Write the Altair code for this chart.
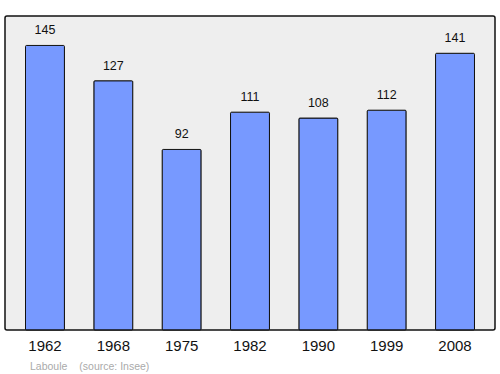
import altair as alt
import pandas as pd

years = ["1962", "1968", "1975", "1982", "1990", "1999", "2008"]
population = [145, 127, 92, 111, 108, 112, 141]
footer_texts = ["Laboule", "(source: Insee)"]

df = pd.DataFrame({"year": years, "pop": population})

x = alt.X("year:N", sort=years, title=None,
          scale=alt.Scale(paddingInner=0.43, paddingOuter=0.3),
          axis=alt.Axis(labelAngle=0, ticks=False, domain=False, labelFontSize=15,
                        labelFont="Liberation Sans", labelColor="#111111", labelPadding=8))
y = alt.Y("pop:Q", title=None, scale=alt.Scale(domain=[0, 160], nice=False),
          axis=None)

bars = alt.Chart(df).mark_bar(color="#7799ff", stroke="#111111", strokeWidth=1,
                              cornerRadius=1).encode(x=x, y=y)
labels = alt.Chart(df).mark_text(dy=-15, fontSize=12.5, font="Liberation Sans",
                                 color="#111111").encode(x=x, y=y, text="pop:Q")

fdf = pd.DataFrame({"t": footer_texts, "px": [25, 74.3]})
footer = alt.Chart(fdf).mark_text(align="left", baseline="middle", fontSize=10.5,
                                  font="Liberation Sans", color="#aaaaaa").encode(
    x=alt.X("px:Q", scale=None), y=alt.value(350.5), text="t:N")

chart = alt.layer(bars, labels, footer).properties(
    width=490, height=314,
    autosize=alt.AutoSizeParams(type="none"),
    padding={"left": 5, "top": 16, "right": 5, "bottom": 44},
    background="white",
).configure_view(fill="#eeeeee", stroke="#111111", strokeWidth=1.5, cornerRadius=2)

chart.save("out.html", embed_options={"renderer": "svg", "actions": False})
